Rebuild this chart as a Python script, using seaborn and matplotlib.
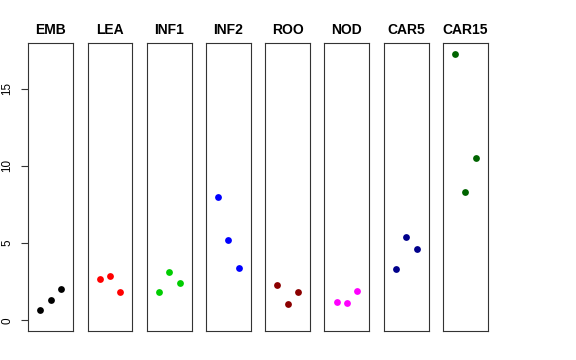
import numpy as np
import pandas as pd
import matplotlib
matplotlib.use('Agg')
import matplotlib.pyplot as plt
import seaborn as sns

# Данные по тканям (3 повтора в каждой)
tissues = ['EMB', 'LEA', 'INF1', 'INF2', 'ROO', 'NOD', 'CAR5', 'CAR15']
colors = ['black', 'red', '#00CD00', 'blue', '#8B0000', 'magenta', '#00008B', '#006400']
emb = [0.65, 1.34, 2.01]
lea = [2.68, 2.87, 1.86]
inf1 = [1.81, 3.15, 2.42]
inf2 = [7.97, 5.18, 3.41]
roo = [2.31, 1.06, 1.84]
nod = [1.19, 1.10, 1.92]
car5 = [3.30, 5.42, 4.60]
car15 = [17.25, 8.33, 10.49]
values = [emb, lea, inf1, inf2, roo, nod, car5, car15]
reps = [1, 2, 3]

df = pd.DataFrame({
    'tissue': np.repeat(tissues, len(reps)),
    'rep': reps * len(tissues),
    'value': np.concatenate(values),
})

sns.set_style('white')
plt.rcParams['font.family'] = ['Liberation Sans', 'DejaVu Sans']
plt.rcParams['text.color'] = 'black'
plt.rcParams['axes.labelcolor'] = 'black'
plt.rcParams['ytick.color'] = 'black'

fig, axes = plt.subplots(1, len(tissues), figsize=(5.76, 3.6), dpi=100, sharey=True)
fig.subplots_adjust(left=0.0491, right=0.847, bottom=0.0806, top=0.8797, wspace=0.318)

ymax = df['value'].max()
pad = 0.04 * ymax
for ax, t, c in zip(axes, tissues, colors):
    sub = df[df['tissue'] == t]
    sns.scatterplot(data=sub, x='rep', y='value', color=c, s=24, linewidth=0, ax=ax, legend=False)
    ax.set_xlim(-0.16, 4.16)
    ax.set_ylim(-pad, ymax + pad)
    ax.set_xticks([])
    ax.set_xlabel('')
    ax.set_ylabel('')
    ax.set_title(t, fontsize=10, fontweight='bold', pad=6.5, color='black')
    for sp in ax.spines.values():
        sp.set_color('#333333')
        sp.set_linewidth(0.8)
    ax.tick_params(left=False, labelleft=False)

# Ось Y только у первой панели
ax0 = axes[0]
ax0.set_yticks([0, 5, 10, 15])
ax0.tick_params(axis='y', left=True, labelleft=True, length=5, width=0.8,
                color='#333333', labelcolor='black', labelsize=8.4, pad=6, labelrotation=90)
for lab in ax0.get_yticklabels():
    lab.set_va('center')

plt.savefig('out.png', dpi=100)
